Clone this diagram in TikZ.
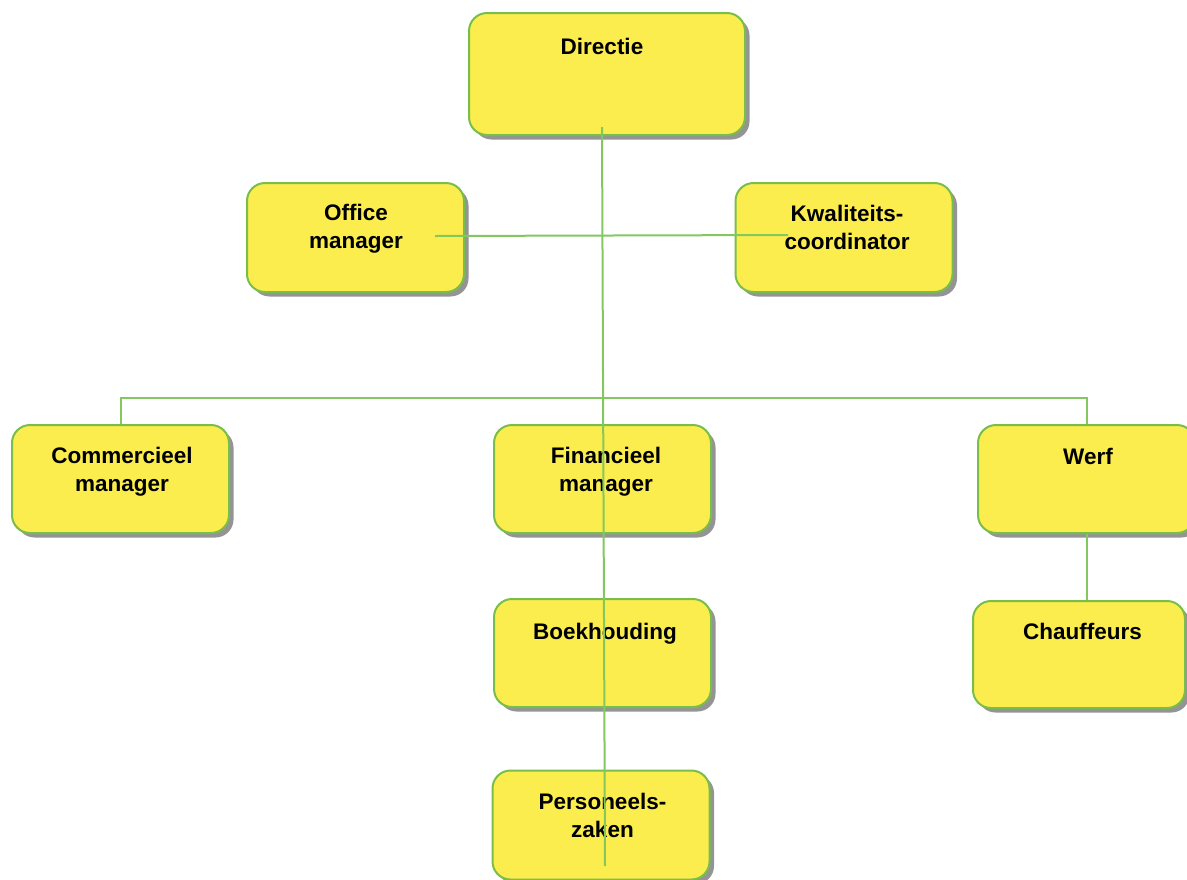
\documentclass[tikz,border=0pt]{standalone}
\usepackage{fontspec}
\setmainfont{Liberation Sans}
\usetikzlibrary{shadows}
\definecolor{boxfill}{RGB}{251,237,78}
\definecolor{boxline}{RGB}{120,190,72}
\definecolor{conline}{RGB}{130,200,95}
\tikzset{
  orgbox/.style={draw=boxline, line width=2pt, fill=boxfill, rounded corners=18pt,
    inner sep=0pt, minimum width=217pt, minimum height=109pt,
    drop shadow={shadow xshift=4.5pt, shadow yshift=-4.5pt, fill=black, opacity=0.42}},
  lbl/.style={anchor=north, inner sep=0pt, align=center,
    font=\fontsize{22.5}{28}\selectfont\bfseries, text=black},
  con/.style={draw=conline, line width=2pt}
}
\begin{document}
\begin{tikzpicture}[x=1pt,y=-1pt]
\useasboundingbox (0,0) rectangle (1187,879);
% boxes
\node[orgbox, minimum width=276pt, minimum height=122pt] (dir) at (607,74) {};
\node[orgbox] (off) at (355.5,237.5) {};
\node[orgbox] (kwa) at (844,237.5) {};
\node[orgbox, minimum height=108pt] (com) at (120.5,479) {};
\node[orgbox, minimum height=108pt] (fin) at (602.5,479) {};
\node[orgbox, minimum height=108pt] (wer) at (1086.5,479) {};
\node[orgbox, minimum height=108pt] (boe) at (602.5,653) {};
\node[orgbox, minimum width=212pt, minimum height=107pt] (cha) at (1079,654.5) {};
\node[orgbox] (per) at (601,825) {};
% labels
\node[lbl] (tdir) at (602,37.5) {Directie};
\node[lbl] (toff) at (356,203.5) {Office\\manager};
\node[lbl] (tkwa) at (847,204.5) {Kwaliteits-\\coordinator};
\node[lbl] (tcom) at (122,446.5) {Commercieel\\manager};
\node[lbl] (tfin) at (606,446.5) {Financieel\\manager};
\node[lbl] (twer) at (1088,447.5) {Werf};
\node[lbl] (tboe) at (605,622.5) {Boekhouding};
\node[lbl] (tcha) at (1082.5,622.5) {Chauffeurs};
\node[lbl] (tper) at (602.5,792.5) {Personeels-\\zaken};
% connector ends
\coordinate (vtop) at (602,127);
\coordinate (vbot) at (605,866);
\coordinate (hl) at (435,236);
\coordinate (hr) at (788,235);
\coordinate (busl) at (120.5,398);
\coordinate (busr) at (1086.5,398);
% connectors
\draw[con] (vtop) -- (vbot);
\draw[con] (hl) -- (hr);
\draw[con] (com.north) -- (busl) -- (busr) -- (wer.north);
\draw[con] (wer.south) -- (wer.south |- cha.north);
\end{tikzpicture}
\end{document}
